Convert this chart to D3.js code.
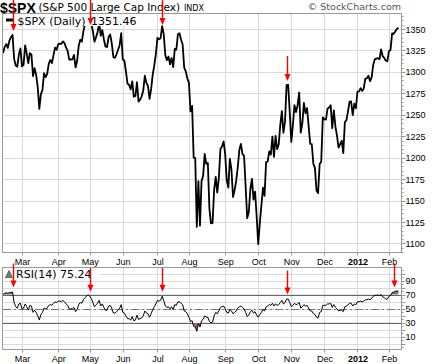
<!DOCTYPE html>
<html>
<head>
<meta charset="utf-8">
<style>
    body { margin: 0; background: #fff; }
    svg { display: block; font-family: "DejaVu Sans", Verdana, sans-serif; }
    .grid .tick line { stroke: #d9d9d9; shape-rendering: crispEdges; }
    .grid .domain { display: none; }
    .grid .tick text { font-size: 9px; fill: #000; }
    .frame { fill: none; stroke: #999; shape-rendering: crispEdges; }
    .price-line { fill: none; stroke: #000; stroke-width: 1.8; stroke-linejoin: round; }
    .rsi-line { fill: none; stroke: #000; stroke-width: 1; stroke-linejoin: round; }
    .legend { font-size: 11px; fill: #000; }
    .arrow line { stroke: #ff0000; stroke-width: 1.4; }
    .arrow path { fill: #ff0000; }
</style>
</head>
<body>
<svg width="432" height="364"></svg>

<script src="https://d3js.org/d3.v7.min.js"></script>
<script>
    // S&P 500 daily closes, Feb 10 2011 .. Feb 9 2012 (one per trading day)
    const closes = [
        1321.87, 1329.15, 1332.32, 1328.01, 1336.32, 1340.43, 1343.01, 1315.44, 1307.40, 1306.10,
        1319.88, 1327.22, 1306.33, 1308.44, 1330.97, 1321.15, 1310.13, 1321.82, 1320.02, 1295.11,
        1304.28, 1296.39, 1281.87, 1256.88, 1273.72, 1279.21, 1298.38, 1293.77, 1297.54, 1309.66,
        1313.80, 1310.19, 1319.44, 1328.26, 1325.83, 1332.41, 1332.87, 1332.63, 1335.54, 1333.51,
        1328.17, 1324.46, 1314.16, 1314.41, 1314.52, 1319.68, 1305.14, 1312.62, 1330.36, 1337.38,
        1335.25, 1347.24, 1355.66, 1360.48, 1363.61, 1361.22, 1356.62, 1347.32, 1335.10, 1340.20,
        1346.29, 1357.16, 1342.08, 1348.65, 1337.77, 1329.47, 1328.98, 1340.68, 1343.60, 1333.27,
        1317.37, 1316.28, 1320.47, 1325.69, 1331.10, 1345.20, 1314.55, 1312.94, 1300.16, 1286.17,
        1284.94, 1279.56, 1289.00, 1270.98, 1271.83, 1287.87, 1265.42, 1267.64, 1271.50, 1278.36,
        1295.52, 1287.14, 1283.50, 1268.45, 1280.10, 1296.67, 1307.41, 1320.64, 1339.67, 1337.88,
        1339.22, 1353.22, 1343.80, 1319.49, 1313.64, 1317.72, 1308.87, 1316.14, 1305.44, 1326.73,
        1325.84, 1343.80, 1345.02, 1337.43, 1331.94, 1304.89, 1300.67, 1292.28, 1286.94, 1254.05,
        1260.34, 1200.07, 1199.38, 1119.46, 1172.53, 1120.76, 1172.64, 1178.81, 1204.49, 1192.76,
        1193.89, 1140.65, 1123.53, 1123.82, 1162.35, 1177.60, 1159.27, 1176.80, 1210.08, 1212.92,
        1218.89, 1204.42, 1173.97, 1165.24, 1198.62, 1185.90, 1154.23, 1162.27, 1172.87, 1188.68,
        1209.11, 1216.01, 1204.09, 1202.09, 1166.76, 1129.56, 1136.43, 1162.95, 1175.38, 1151.06,
        1160.40, 1131.42, 1099.23, 1123.95, 1144.03, 1164.97, 1155.46, 1194.89, 1195.54, 1207.25,
        1203.66, 1224.58, 1200.86, 1225.38, 1209.88, 1215.39, 1238.25, 1254.19, 1229.05, 1242.00,
        1284.59, 1285.09, 1253.30, 1218.28, 1237.90, 1261.15, 1253.23, 1261.12, 1275.92, 1229.10,
        1239.70, 1263.85, 1251.78, 1257.81, 1236.91, 1216.13, 1215.65, 1192.98, 1188.04, 1161.79,
        1158.67, 1192.55, 1195.19, 1246.96, 1244.58, 1244.28, 1257.08, 1258.47, 1261.01, 1234.35,
        1255.19, 1236.47, 1225.73, 1211.82, 1215.75, 1219.66, 1205.35, 1241.30, 1243.72, 1254.00,
        1265.33, 1265.43, 1249.64, 1263.02, 1257.60, 1277.06, 1277.30, 1281.06, 1277.81, 1280.70,
        1292.08, 1292.48, 1295.50, 1289.09, 1293.67, 1308.04, 1314.50, 1315.38, 1316.00, 1314.65,
        1326.06, 1318.43, 1316.33, 1313.01, 1312.41, 1324.09, 1325.54, 1344.90, 1344.33, 1347.05,
        1349.96, 1351.46
    ];

    // RSI(14), same days
    const rsi = [
        71, 72, 73, 72, 73, 73.5, 74, 59, 53, 51,
        57, 58, 50, 51, 57, 53, 48, 55, 54, 45,
        48, 45, 40, 34, 42, 45, 51, 50, 51, 55,
        56, 55, 58, 60, 59, 61, 61, 60.5, 62, 60,
        57, 55, 50, 50, 50, 52, 46, 49, 56, 59,
        58, 63, 66, 68, 70, 68, 65, 59, 53, 56,
        58, 62, 54, 57, 52, 48, 48, 54, 55, 51,
        44, 44, 46, 48, 51, 56, 45, 44, 40, 36,
        36, 34, 39, 33, 34, 41, 35, 36, 37, 40,
        47, 44, 43, 38, 43, 49, 53, 57, 62, 61,
        62, 68, 62, 54, 52, 53, 50, 53, 49, 56,
        55, 60, 60, 58, 56, 47, 46, 43, 38, 32,
        33, 25, 24, 18, 29, 24, 33, 35, 40, 38,
        38, 32, 30, 31, 40, 45, 43, 47, 52, 53,
        54, 50, 45, 44, 49, 47, 43, 45, 47, 51,
        53, 54, 52, 50, 45, 39, 41, 46, 48, 44,
        46, 41, 38, 42, 45, 49, 47, 53, 54, 56,
        55, 58, 54, 57, 55, 56, 59, 62, 57, 59,
        64, 64, 59, 53, 55, 58, 56, 57, 59, 51,
        53, 56, 54, 55, 51, 47, 47, 43, 42, 38,
        37, 45, 46, 55, 55, 55, 57, 57, 58, 52,
        56, 52, 50, 47, 48, 48, 46, 53, 54, 56,
        58, 58, 54, 57, 56, 60, 60, 61, 60, 61,
        63, 63, 64, 63, 65, 68, 69, 69.5, 69.5, 69,
        70.5, 67, 66, 64, 64, 68, 69, 73, 74, 75,
        75.5, 75.24
    ];

    // first trading day of each month (index into closes)
    const monthStart = [12, 35, 55, 76, 98, 118, 141, 162, 183, 204, 225, 245];
    const monthLabels = ["Mar", "Apr", "May", "Jun", "Jul", "Aug", "Sep", "Oct", "Nov", "Dec", "2012", "Feb"];

    const priceTicks = [1100, 1125, 1150, 1175, 1200, 1225, 1250, 1275, 1300, 1325, 1350];
    const rsiGrid = [0, 10, 20, 30, 40, 50, 60, 70, 80, 90, 100];
    const rsiTicks = [10, 30, 50, 70, 90];

    // days marked with red arrows
    const priceArrows = [6, 55, 101, 180];
    const rsiArrows = [6, 55, 101, 180, 248];

    let svg = d3.select("svg");

    let left = 2.5, right = 401.5;
    let mainTop = 13.5, mainBottom = 252.5;
    let lowTop = 267.5, lowBottom = 349.5;

    let x = d3.scaleLinear()
        .domain([0, closes.length - 1])
        .range([3.1, 398.4]);

    let y = d3.scaleLinear()
        .domain([1089.5, 1368])
        .range([mainBottom, mainTop]);

    let yr = d3.scaleLinear()
        .domain([-8, 109])
        .range([lowBottom, lowTop]);

    // ---------- main panel ----------
    svg.append("g")
        .attr("class", "grid")
        .attr("transform", `translate(${right},0)`)
        .call(d3.axisRight(y).tickValues(priceTicks).tickSize(-(right - left)).tickPadding(4)
            .tickFormat(d3.format("d")))
        .selectAll("text").attr("dy", "0.34em");

    svg.append("g")
        .attr("class", "grid")
        .attr("transform", `translate(0,${mainBottom})`)
        .call(d3.axisBottom(x).tickValues(monthStart).tickSize(-(mainBottom - mainTop)).tickPadding(6)
            .tickFormat((d, i) => monthLabels[i]))
        .selectAll("text")
        .style("font-weight", (d, i) => monthLabels[i] == "2012" ? "bold" : null);

    // small tick marks outside the frame
    svg.append("g")
        .selectAll("line")
        .data(d3.range(1090, 1368, 5))
        .join("line")
        .attr("x1", right).attr("x2", d => right + (d % 25 == 0 ? 4 : 2))
        .attr("y1", d => Math.round(y(d)) + 0.5).attr("y2", d => Math.round(y(d)) + 0.5)
        .style("stroke", "#999");

    svg.append("g")
        .selectAll("line")
        .data(monthStart)
        .join("line")
        .attr("x1", d => Math.round(x(d)) + 0.5).attr("x2", d => Math.round(x(d)) + 0.5)
        .attr("y1", mainBottom).attr("y2", mainBottom + 3)
        .style("stroke", "#999");

    let line = d3.line()
        .x((d, i) => x(i))
        .y(d => y(d));

    svg.append("path")
        .datum(closes)
        .attr("class", "price-line")
        .attr("d", line);

    svg.append("rect")
        .attr("class", "frame")
        .attr("x", left).attr("y", mainTop)
        .attr("width", right - left).attr("height", mainBottom - mainTop);

    // legend
    svg.append("rect")
        .attr("x", left + 0.5).attr("y", mainTop + 0.5)
        .attr("width", 136).attr("height", 12)
        .style("fill", "#fff");

    svg.append("line")
        .attr("x1", 6).attr("x2", 13)
        .attr("y1", 20).attr("y2", 20)
        .style("stroke", "#000").style("stroke-width", 3);

    svg.append("text")
        .attr("class", "legend")
        .attr("x", 17.5).attr("y", 24.5)
        .text("$SPX (Daily)");

    svg.append("text")
        .attr("class", "legend")
        .attr("x", 91).attr("y", 24.5)
        .text(d3.format(".2f")(closes[closes.length - 1]));

    // title
    svg.append("text")
        .attr("x", 0).attr("y", 12.5)
        .style("font-family", "'Liberation Sans', Arial, sans-serif")
        .style("font-weight", "bold").style("font-size", "14px")
        .text("$SPX");

    svg.append("text")
        .attr("x", 38.5).attr("y", 11)
        .style("font-size", "10.5px")
        .text("(S&P 500 Large Cap Index)");

    svg.append("text")
        .attr("x", 184).attr("y", 11)
        .style("font-size", "8px")
        .text("INDX");

    svg.append("text")
        .attr("x", 401).attr("y", 10)
        .attr("text-anchor", "end")
        .style("font-size", "9.5px").style("fill", "#555")
        .text("© StockCharts.com");

    // ---------- RSI panel ----------
    svg.append("g")
        .attr("class", "grid")
        .attr("transform", `translate(${right},0)`)
        .call(d3.axisRight(yr).tickValues(rsiGrid).tickSize(-(right - left)).tickPadding(4)
            .tickFormat(d => rsiTicks.includes(d) ? d : ""))
        .selectAll("text").attr("dy", "0.34em");

    svg.append("g")
        .attr("class", "grid")
        .attr("transform", `translate(0,${lowBottom})`)
        .call(d3.axisBottom(x).tickValues(monthStart).tickSize(-(lowBottom - lowTop)).tickPadding(6)
            .tickFormat((d, i) => monthLabels[i]))
        .selectAll("text")
        .style("font-weight", (d, i) => monthLabels[i] == "2012" ? "bold" : null);

    svg.append("g")
        .selectAll("line")
        .data(d3.range(-5, 109, 5))
        .join("line")
        .attr("x1", right).attr("x2", d => right + (d % 10 == 0 ? 4 : 2))
        .attr("y1", d => Math.round(yr(d)) + 0.5).attr("y2", d => Math.round(yr(d)) + 0.5)
        .style("stroke", "#999");

    // overbought / oversold / mid lines
    [70, 30].forEach(v => {
        svg.append("line")
            .attr("x1", left).attr("x2", right)
            .attr("y1", Math.round(yr(v)) + 0.5).attr("y2", Math.round(yr(v)) + 0.5)
            .style("stroke", "#666").style("shape-rendering", "crispEdges");
    });
    svg.append("line")
        .attr("x1", left).attr("x2", right)
        .attr("y1", Math.round(yr(50)) + 0.5).attr("y2", Math.round(yr(50)) + 0.5)
        .style("stroke", "#777").style("stroke-dasharray", "8,3,2,3")
        .style("shape-rendering", "crispEdges");

    // shaded zones
    let defs = svg.append("defs");
    defs.append("clipPath").attr("id", "above70")
        .append("rect").attr("x", left).attr("y", lowTop)
        .attr("width", right - left).attr("height", yr(70) - lowTop);
    defs.append("clipPath").attr("id", "below30")
        .append("rect").attr("x", left).attr("y", yr(30))
        .attr("width", right - left).attr("height", lowBottom - yr(30));

    svg.append("path")
        .datum(rsi)
        .attr("clip-path", "url(#above70)")
        .style("fill", "#6b8a6b")
        .attr("d", d3.area().x((d, i) => x(i)).y0(yr(70)).y1(d => yr(d)));

    svg.append("path")
        .datum(rsi)
        .attr("clip-path", "url(#below30)")
        .style("fill", "#9a6a6a")
        .attr("d", d3.area().x((d, i) => x(i)).y0(yr(30)).y1(d => yr(d)));

    svg.append("path")
        .datum(rsi)
        .attr("class", "rsi-line")
        .attr("d", d3.line().x((d, i) => x(i)).y(d => yr(d)));

    svg.append("rect")
        .attr("class", "frame")
        .attr("x", left).attr("y", lowTop)
        .attr("width", right - left).attr("height", lowBottom - lowTop);

    svg.append("g")
        .selectAll("line")
        .data(monthStart)
        .join("line")
        .attr("x1", d => Math.round(x(d)) + 0.5).attr("x2", d => Math.round(x(d)) + 0.5)
        .attr("y1", lowBottom).attr("y2", lowBottom + 3)
        .style("stroke", "#999");

    // RSI legend
    svg.append("rect")
        .attr("x", left + 0.5).attr("y", lowTop + 0.5)
        .attr("width", 96).attr("height", 11)
        .style("fill", "#fff");

    svg.append("path")
        .attr("d", "M5.5,277.5 L9,270.5 L12.5,277.5 Z")
        .style("fill", "#5f8f5f").style("stroke", "#333").style("stroke-width", 0.6);

    svg.append("text")
        .attr("class", "legend")
        .attr("x", 16).attr("y", 277.5)
        .text("RSI(14) " + d3.format(".2f")(rsi[rsi.length - 1]));

    // ---------- red arrows ----------
    function arrow(px, tip, len) {
        let g = svg.append("g").attr("class", "arrow");
        g.append("line")
            .attr("x1", px).attr("x2", px)
            .attr("y1", tip - len).attr("y2", tip - 5);
        g.append("path")
            .attr("d", `M${px - 3},${tip - 7} L${px + 3},${tip - 7} L${px},${tip} Z`);
    }

    priceArrows.forEach(d => {
        let tip = Math.max(y(closes[d]) - 4, 25);
        arrow(Math.round(x(d)) + 0.5, tip, tip < 40 ? tip : 25);
    });

    rsiArrows.forEach(d => {
        let tip = yr(rsi[d]) - 4.5;
        arrow(Math.round(x(d)) + 0.5, tip, 24);
    });
</script>
</body>
</html>
